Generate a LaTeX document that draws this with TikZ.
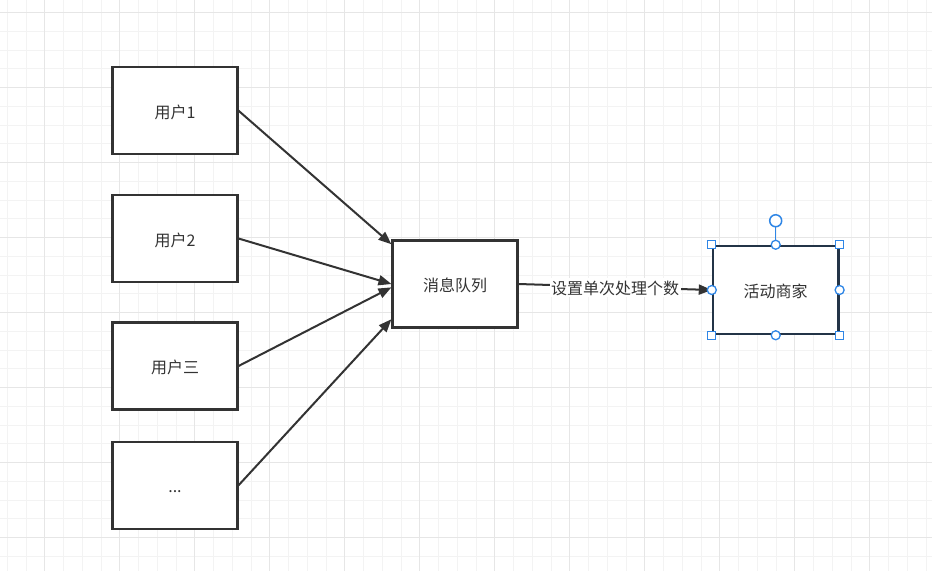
\documentclass[tikz,border=0pt]{standalone}
\usepackage{fontspec}
\newfontfamily\cjk{Noto Sans CJK SC}
\usetikzlibrary{arrows.meta,calc}
\definecolor{ink}{HTML}{333333}
\definecolor{gridminor}{HTML}{F3F3F3}
\definecolor{gridmajor}{HTML}{E6E6E6}
\definecolor{selblue}{HTML}{2F86E6}
\definecolor{selbox}{HTML}{233447}
\tikzset{
  box/.style={draw=ink, line width=2.5pt, fill=white, minimum width=124.6pt, minimum height=87pt,
    inner sep=0pt, text=ink, font=\cjk\fontsize{16}{19}\selectfont, text height=16pt, text depth=1pt},
  conn/.style={draw=ink, line width=2pt, -{Triangle[length=13pt,width=10pt]}},
  handlesq/.style={draw=selblue, fill=white, line width=1.3pt, minimum size=8pt, inner sep=0pt},
  handlect/.style={draw=selblue, fill=white, line width=1.3pt, circle, minimum size=9pt, inner sep=0pt},
}
\begin{document}
\begin{tikzpicture}[x=1pt,y=-1pt]
\useasboundingbox (0,0) rectangle (932,571);
\fill[white] (0,0) rectangle (932,571);
% grid
\foreach \k in {0,...,49} {\draw[gridminor, line width=1pt] ({7.3+18.75*\k},0) -- ({7.3+18.75*\k},571);}
\foreach \k in {0,...,30} {\draw[gridminor, line width=1pt] (0,{12.7+18.75*\k}) -- (932,{12.7+18.75*\k});}
\foreach \m in {0,...,11} {\draw[gridmajor, line width=1pt] ({44.8+75*\m},0) -- ({44.8+75*\m},571);}
\foreach \m in {0,...,7} {\draw[gridmajor, line width=1pt] (0,{12.7+75*\m}) -- (932,{12.7+75*\m});}
% boxes
\node[box] (u1) at (175,110.7) {用户1};
\node[box] (u2) at (175,238.5) {用户2};
\node[box] (u3) at (175,366) {用户三};
\node[box] (u4) at (175,485.3) {...};
\node[box, minimum height=86.6pt] (mq) at (455,284) {消息队列};
\node[box, draw=selbox, minimum width=125.3pt, minimum height=88pt] (sh) at (775.7,290) {活动商家};
% connectors
\draw[conn] (u1.east) -- (mq.148);
\draw[conn] (u2.east) -- (mq.180.5);
\draw[conn] (u3.east) -- (mq.183);
\draw[conn] (u4.east) -- (mq.209);
\draw[conn] (mq.east) -- node[fill=white, inner sep=1.5pt, text=ink, font=\cjk\fontsize{16}{19}\selectfont, text height=15pt, text depth=1pt] (lbl) {设置单次处理个数} (sh.west);
% selection handles
\coordinate (rot) at ($(sh.north)+(0,-24)$);
\draw[selblue, line width=1.2pt] (sh.north) -- (rot);
\node[handlect, minimum size=12pt, line width=1.5pt] (rh) at (rot) {};
\foreach \a in {north west,north east,south west,south east} {\node[handlesq] at (sh.\a) {};}
\foreach \a in {north,south,east,west} {\node[handlect] at (sh.\a) {};}
\end{tikzpicture}
\end{document}
